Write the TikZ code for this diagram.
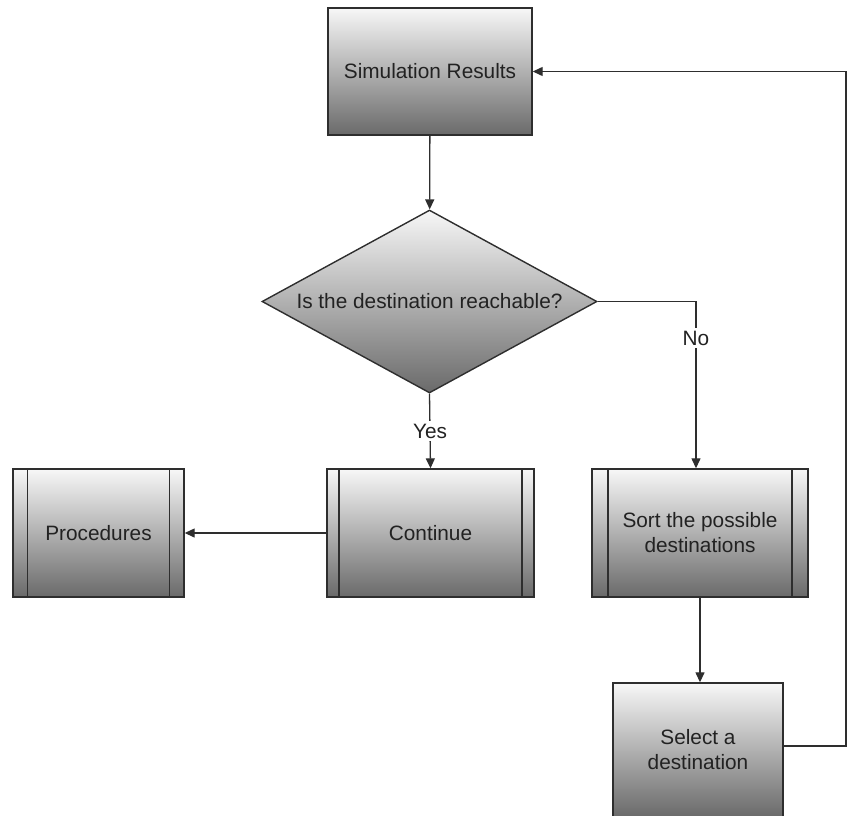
\documentclass[tikz,border=0pt]{standalone}
\usepackage{fontspec}
\setmainfont{Liberation Sans}
\usetikzlibrary{shapes.geometric,arrows.meta}
\definecolor{edge}{HTML}{2E2E2E}
\definecolor{ink}{HTML}{222222}
\definecolor{boxtop}{HTML}{F7F7F7}
\definecolor{boxbot}{HTML}{6A6A6A}
\tikzset{
  box/.style={draw=edge, line width=1.4pt, top color=boxtop, bottom color=boxbot,
    text=ink, align=center, inner sep=0pt, font=\fontsize{20.8}{25}\selectfont},
  subproc/.style={box, path picture={
    \draw[edge, line width=1.2pt]
      ([xshift=#1]path picture bounding box.north west) -- ([xshift=#1]path picture bounding box.south west)
      ([xshift=-#1]path picture bounding box.north east) -- ([xshift=-#1]path picture bounding box.south east);}},
  link/.style={draw=edge, line width=1.3pt, -{Triangle[length=10pt,width=9pt]}},
  answer/.style={fill=white, inner sep=3pt, text=ink, font=\fontsize{20.8}{25}\selectfont}
}
\begin{document}
\begin{tikzpicture}[x=1pt,y=-1pt]
\useasboundingbox (0,0) rectangle (848,815);
\clip (0,0) rectangle (848,815);
\node[box, minimum width=204pt, minimum height=127pt] (sim) at (430,71.5) {Simulation Results};
\node[box, diamond, aspect=1.83, minimum width=335pt, minimum height=183pt] (dec) at (429.5,301.5) {Is the destination reachable?};
\node[subproc=12pt, minimum width=207pt, minimum height=128pt] (cont) at (430.5,533) {Continue};
\node[subproc=14.5pt, minimum width=171pt, minimum height=128pt] (proc) at (98.5,533) {Procedures};
\node[subproc=16pt, minimum width=216pt, minimum height=128pt] (sort) at (700,533) {Sort the possible\\destinations};
\node[box, minimum width=170pt, minimum height=134pt] (sel) at (698,750) {Select a\\destination};
\coordinate (ret) at (846,71.5);
\draw[link] (sim) -- (dec);
\draw[link] (dec.south) -- node[answer] {Yes} (cont.north);
\draw[link] (dec.east) -| node[answer, pos=0.61] {No} ([xshift=-4pt]sort.north);
\draw[link] (cont.west) -- (proc.east);
\draw[link] (sort.south) -- (sort.south |- sel.north);
\draw[link] ([yshift=4pt]sel.east) -| (ret) -- (sim.east);
\end{tikzpicture}
\end{document}
